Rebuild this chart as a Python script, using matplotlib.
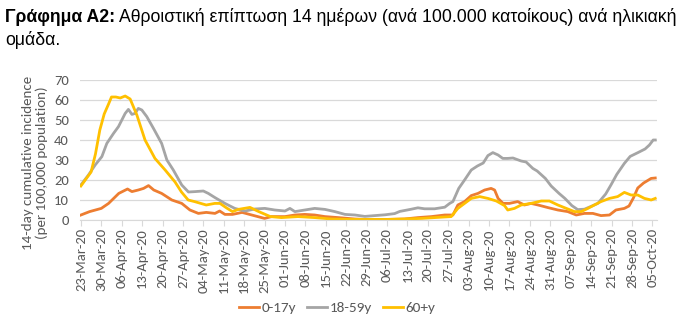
import matplotlib
matplotlib.use("Agg")
import matplotlib.pyplot as plt
import matplotlib.dates as mdates
import numpy as np
import pandas as pd

start_date = "2020-03-23"

# day offsets from 23-Mar-2020 and values (per 100,000)
days_0_17 = [0, 3, 7, 9.5, 13, 16, 17.5, 19.7, 21.5, 23.2, 25, 27.7, 31.2, 34.6, 37.4, 40.3, 43, 46, 47.6,
             49.4, 52, 55.3, 58.6, 63, 65.4, 70, 73.4, 76.8, 80.2, 83.7, 88.3, 94, 97.4, 105.4, 111, 115.6,
             120.2, 124.8, 127.6, 129.3, 131.6, 133.9, 136.2, 138.5, 140.7, 141.9, 143.1, 144.8, 147, 149.8,
             152.1, 154.4, 156.8, 160.2, 163.6, 167, 169.9, 172.7, 175.6, 178.4, 181.3, 183.5, 186.4, 188,
             189.5, 191, 193, 195.6, 197]
vals_0_17 = [2.5, 4.2, 5.8, 8.3, 13.3, 15.5, 14.2, 15, 15.8, 17.2, 15, 13.3, 10, 8.3, 5, 3.3, 3.8, 3.3, 4.5,
             2.8, 2.8, 3.8, 2.5, 0.8, 1.7, 1.7, 2.5, 2.8, 2.5, 1.7, 1.2, 0.5, 0.3, 0.3, 0.5, 1.2,
             1.7, 2.5, 2.5, 7.5, 9.2, 12.2, 13.3, 15, 15.8, 15, 10.8, 8.3, 8.3, 9.2,
             7.5, 8.3, 7.5, 6.2, 5, 4.2, 2.5, 3.3, 3.3, 2.2, 2.5, 5, 5.8, 7,
             11, 16, 18.5, 20.8, 21]

days_18_59 = [0, 2.6, 4.9, 7.2, 8.9, 11.2, 12.9, 15.2, 16.3, 17.5, 18.6, 19.7, 20.9, 22.6, 24.9, 27.7, 29.5,
              31.7, 34.6, 36.9, 39.2, 42, 43.7, 46, 49.4, 52.8, 56.3, 59.7, 63.1, 66.5, 70, 71.7, 73.4,
              76.8, 80.2, 83.7, 87.1, 90.6, 94, 97.4, 100.8, 104.3, 107.6, 109.4, 113, 115.6, 117.9, 121.3,
              124.8, 126.5, 127.6, 129.6, 131.6, 133.9, 136, 138, 139.6, 141.3, 143.1, 144.7, 146.4, 148.2,
              151, 152.7, 155, 156.5, 159.3, 161.3, 164, 166, 168.4, 170.4, 172.7, 175.3, 177.3, 180,
              181.8, 183.8, 186.4, 188.4, 191.2, 193.5, 195, 196.3, 197]
vals_18_59 = [17.5, 22.5, 27.5, 31.7, 38.3, 43.3, 46.7, 53.3, 55.3, 52.8, 53.3, 55.8, 55, 51.7, 45.8, 38.3, 30,
              25, 17.5, 14, 14.2, 14.5, 13.3, 11.2, 8.3, 5.8, 4.5, 5.5, 5.8, 5, 4.5, 5.8, 4.2,
              5, 5.8, 5.3, 4.2, 2.8, 2.5, 1.8, 2.2, 2.6, 3.2, 4.3, 5.3, 6.1, 5.6, 5.6,
              6.4, 8.3, 9.2, 15.8, 20, 25, 27, 28.5, 32.2, 33.7, 32.5, 30.8, 30.8, 31,
              29.5, 29, 25.8, 24.5, 20.8, 17, 13.3, 10.8, 7.2, 5.2, 5.4, 7, 8.3, 13,
              17.5, 22.8, 28.3, 31.8, 33.8, 35.5, 37.5, 40, 40]

days_60 = [0, 2, 3.5, 5, 6.5, 8, 9.5, 10.5, 12, 13.5, 15.2, 16.9, 19.2, 22, 25.4, 28.9, 32.3, 34.5, 36.8, 39,
           43, 45.9, 47.7, 50, 52, 54, 56, 58, 61, 65, 68.8, 74.5, 80.2, 85.9, 91.6, 97.4, 105, 111, 117,
           122.4, 127, 129.3, 131.6, 133.9, 136.8, 139.6, 142.5, 145.3, 146.4, 148.7, 151, 154.4, 157.9,
           160.7, 163.6, 166.5, 169.3, 171.6, 173.9, 176.1, 178.4, 181.3, 184.1, 186.4, 188.7, 191, 193.3,
           195.6, 197]
vals_60 = [17, 21, 24, 33, 45, 53, 58, 61.5, 61.5, 61, 62, 60.5, 52.5, 40, 30.8, 25, 19, 14, 10, 9.2,
           7.5, 8.3, 8.3, 6, 4.2, 5.3, 5.8, 6.3, 4.2, 1.7, 1.2, 1.7, 1.2, 0.5, 0.3, 0.3, 0.3, 0.5, 0.8,
           1.3, 1.7, 5.8, 8.3, 10.8, 11.7, 10.8, 9.5, 7.2, 5, 5.8, 7.5, 8.3, 9.5,
           9.5, 7.5, 5.8, 4.2, 4.2, 5.8, 7.5, 9.2, 10.8, 11.7, 13.8, 12.5, 12.5, 10.8,
           10, 10.8]

series_labels = ["0-17y", "18-59y", "60+y"]
tick_dates = pd.date_range("2020-03-23", "2020-10-05", freq="7D")
y_ticks = [0, 10, 20, 30, 40, 50, 60, 70]

colors = ["#ED7D31", "#A5A5A5", "#FFC000"]

base = pd.Timestamp(start_date)
def to_dates(days):
    return [base + pd.Timedelta(days=float(d)) for d in days]

plt.rcParams['font.family'] = ['Liberation Sans', 'DejaVu Sans']
fig = plt.figure(figsize=(6.88, 3.36), dpi=100)
ax = fig.add_axes([80/688, (336-220)/336, (657-80)/688, 140/336])

for days, vals, lab, col in zip([days_0_17, days_18_59, days_60],
                                [vals_0_17, vals_18_59, vals_60],
                                series_labels, colors):
    ax.plot(to_dates(days), vals, color=col, lw=2.0, label=lab, solid_joinstyle='round')

ax.set_ylim(0, 70)
ax.set_yticks(y_ticks)
ax.set_xlim(base - pd.Timedelta(days=0.3), base + pd.Timedelta(days=197.6))
ax.set_xticks(tick_dates)
ax.xaxis.set_major_formatter(mdates.DateFormatter("%d-%b-%y"))
tickfont = ['Carlito', 'Lato', 'DejaVu Sans']
for lbl in ax.get_xticklabels():
    lbl.set_rotation(90)
    lbl.set_family(tickfont)
for lbl in ax.get_yticklabels():
    lbl.set_family(tickfont)
ax.tick_params(axis='x', colors='#595959', labelsize=10.5, length=4, width=0.8, color='#D9D9D9', pad=2)
ax.tick_params(axis='y', colors='#595959', labelsize=10.5, length=0, pad=8)
ax.grid(axis='y', color='#D9D9D9', lw=0.9)
ax.set_axisbelow(True)
for s in ['top', 'right', 'left']:
    ax.spines[s].set_visible(False)
ax.spines['bottom'].set_color('#D9D9D9')

fig.text(35/688, 1 - 163/336, "14-day cumulative incidence\n(per 100,000 population)", color='#595959',
         fontsize=10.8, family=tickfont, rotation=90, ha='center', va='center', linespacing=1.15)

leg = fig.legend(loc='center', bbox_to_anchor=(337/688, 1 - 308/336), ncol=3, frameon=False,
                 handlelength=1.35, handletextpad=0.15, columnspacing=0.7,
                 prop={'family': tickfont, 'size': 11})
for t in leg.get_texts():
    t.set_color('#595959')

# title
t1 = fig.text(5/688, 1 - 17/336, "Γράφημα Α2:", fontsize=12.7, fontweight='bold', va='center', ha='left')
fig.canvas.draw()
bb = t1.get_window_extent(renderer=fig.canvas.get_renderer())
fig.text(bb.x1 / fig.bbox.width + 4/688, 1 - 17/336,
         "Αθροιστική επίπτωση 14 ημέρων (ανά 100.000 κατοίκους) ανά ηλικιακή",
         fontsize=12.7, va='center', ha='left')
fig.text(5/688, 1 - 40/336, "ομάδα.", fontsize=12.7, va='center', ha='left')

fig.savefig("out.png", dpi=100)
